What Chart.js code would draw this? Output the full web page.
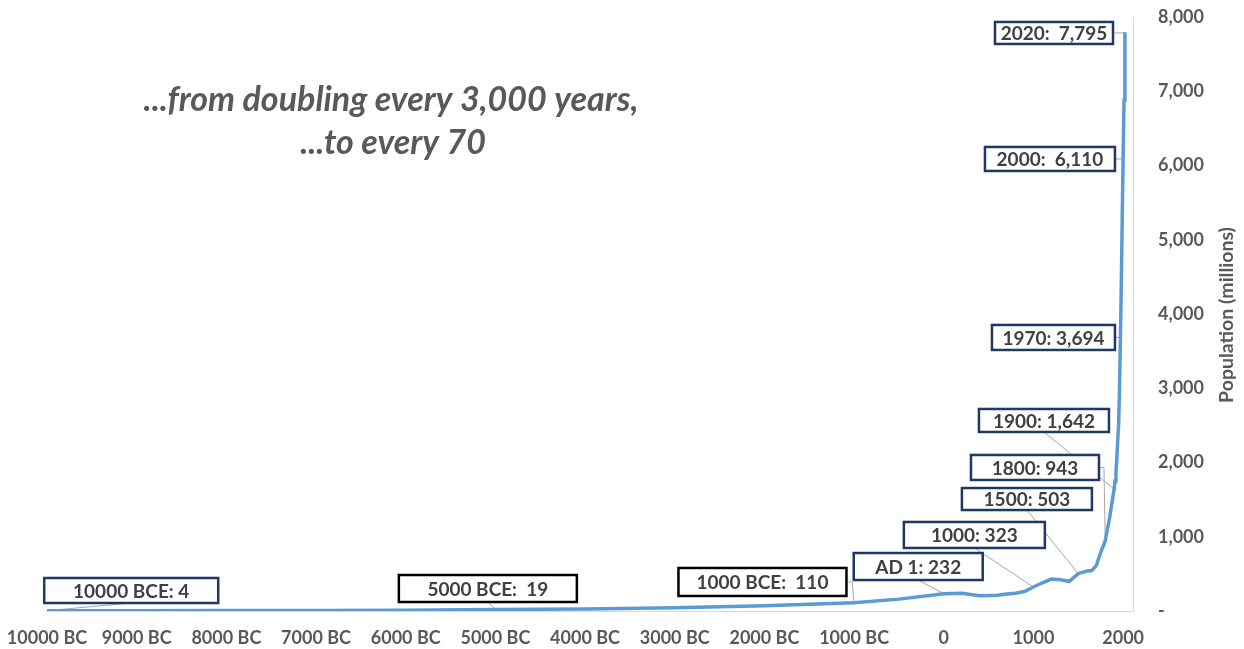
<!DOCTYPE html>
<html>
<head>
<meta charset="utf-8">
<script src="https://cdn.jsdelivr.net/npm/chart.js@4.4.1/dist/chart.umd.min.js"></script>
<style>
  html, body { margin: 0; padding: 0; background: #ffffff; }
  #wrap { width: 1244px; height: 649px; position: relative; }
</style>
</head>
<body>
<div id="wrap"><canvas id="c" width="1244" height="649"></canvas></div>
<script>
// ---- Data ----
const years = [-10000, -9000, -8000, -7000, -6000, -5000, -4000, -3000, -2000, -1000, -500, 1, 200, 400, 500, 600, 700, 800, 900, 1000, 1100, 1200, 1300, 1400, 1500, 1600, 1650, 1700, 1750, 1800, 1850, 1900, 1910, 1920, 1930, 1940, 1950, 1960, 1970, 1980, 1990, 2000, 2010, 2020];
const population = [4, 5, 6, 8, 11, 19, 28, 45, 72, 110, 160, 232, 240, 206, 210, 213, 228, 240, 262, 323, 380, 430, 420, 400, 503, 540, 545, 610, 790, 943, 1262, 1642, 1750, 1860, 2070, 2300, 2525, 3018, 3694, 4434, 5310, 6110, 6880, 7795];

const xTickValues = [-10000, -9000, -8000, -7000, -6000, -5000, -4000, -3000, -2000, -1000, 0, 1000, 2000];
const yTickValues = [0, 1000, 2000, 3000, 4000, 5000, 6000, 7000, 8000];
const yAxisTitle = 'Population (millions)';

// Annotated points
const labelTexts = ['10000 BCE: 4', '5000 BCE:  19', '1000 BCE:  110', 'AD 1: 232', '1000: 323', '1500: 503', '1800: 943', '1900: 1,642', '1970: 3,694', '2000:  6,110', '2020:  7,795'];
const labelYears = [-10000, -5000, -1000, 1, 1000, 1500, 1800, 1900, 1970, 2000, 2020];
const labelValues = [4, 19, 110, 232, 323, 503, 943, 1642, 3694, 6110, 7795];

// ---- Annotation layout (box centres in axis units, box sizes, styles) ----
const boxYears = [-9061, -5084, -2022, -285, 341, 927, 1017, 1117, 1223, 1184, 1229];
const boxValues = [276, 303, 391, 599, 1024, 1508, 1933, 2566, 3684, 6088, 7785];
const boxWidths = [174, 178, 168, 129, 141, 130, 128, 130, 123, 130, 118];
const boxHeights = [25, 27, 28, 27, 26, 22, 25, 23, 25, 24, 22];
const boxAnchors = ['bottom', 'bottom', 'right', 'bottom', 'bottom', 'bottom', 'right', 'bottom', 'right', 'right', 'right'];
const boxBorders = ['#1F3864', '#000000', '#000000', '#1F3864', '#1F3864', '#1F3864', '#1F3864', '#1F3864', '#1F3864', '#1F3864', '#1F3864'];

const titleLines = ['...from doubling every 3,000 years,', '...to every 70'];

const FONT = 'Lato, "Open Sans", "DejaVu Sans", sans-serif';

const annotationPlugin = {
  id: 'annots',
  beforeDatasetsDraw(chart) {
    const ctx = chart.ctx, xs = chart.scales.x, ys = chart.scales.y;
    ctx.save();
    ctx.strokeStyle = '#A6A6A6';
    ctx.lineWidth = 1;
    for (let i = 0; i < labelTexts.length; i++) {
      const px = xs.getPixelForValue(labelYears[i]);
      const py = ys.getPixelForValue(labelValues[i]);
      const bx = xs.getPixelForValue(boxYears[i]);
      const by = ys.getPixelForValue(boxValues[i]);
      ctx.beginPath();
      if (boxAnchors[i] === 'bottom') {
        ctx.moveTo(bx, by + boxHeights[i] / 2);
        ctx.lineTo(px, py);
      } else {
        const rx = bx + boxWidths[i] / 2;
        ctx.moveTo(rx, by);
        ctx.lineTo(Math.max(rx + 5, px - 2), by);
        ctx.lineTo(px, py);
      }
      ctx.stroke();
    }
    ctx.restore();
  },
  afterDatasetsDraw(chart) {
    const ctx = chart.ctx, xs = chart.scales.x, ys = chart.scales.y;
    ctx.save();
    for (let i = 0; i < labelTexts.length; i++) {
      const bx = xs.getPixelForValue(boxYears[i]);
      const by = ys.getPixelForValue(boxValues[i]);
      const w = boxWidths[i], h = boxHeights[i];
      ctx.fillStyle = '#ffffff';
      ctx.fillRect(bx - w / 2, by - h / 2, w, h);
      ctx.strokeStyle = boxBorders[i];
      ctx.lineWidth = 2.5;
      ctx.strokeRect(bx - w / 2, by - h / 2, w, h);
      ctx.fillStyle = '#404040';
      ctx.font = 'bold 19px ' + FONT;
      ctx.textAlign = 'center';
      ctx.textBaseline = 'middle';
      ctx.fillText(labelTexts[i], bx, by + 1);
    }
    ctx.restore();
  },
  afterDraw(chart) {
    const ctx = chart.ctx;
    const area = chart.chartArea;
    ctx.save();
    ctx.fillStyle = '#595959';
    ctx.font = 'italic bold 34px ' + FONT;
    ctx.textAlign = 'center';
    ctx.textBaseline = 'middle';
    ctx.fillText(titleLines[0], 391, 100);
    ctx.fillText(titleLines[1], 393, 143);
    // y-axis title, reading bottom-to-top
    ctx.translate(1227, (area.top + area.bottom) / 2 + 1);
    ctx.rotate(-Math.PI / 2);
    ctx.font = 'bold 19.5px ' + FONT;
    ctx.fillText(yAxisTitle, 0, 0);
    ctx.restore();
  }
};

new Chart(document.getElementById('c'), {
  type: 'line',
  data: {
    datasets: [{
      data: years.map((y, i) => ({ x: y, y: population[i] })),
      borderColor: '#5B9BD5',
      borderWidth: 3.5,
      pointRadius: 0,
      tension: 0,
      fill: false
    }]
  },
  options: {
    responsive: false,
    animation: false,
    layout: { padding: { left: 47, top: 17, right: 0, bottom: 0 } },
    plugins: { legend: { display: false }, tooltip: { enabled: false }, title: { display: false } },
    scales: {
      x: {
        type: 'linear',
        min: -10000,
        max: 2110,
        grid: { display: false, drawTicks: false },
        border: { display: true, color: '#D9D9D9', width: 1 },
        afterBuildTicks: (scale) => { scale.ticks = xTickValues.map(v => ({ value: v })); },
        afterFit: (scale) => {
          scale.height = 38;
          scale.paddingLeft = 0; scale.paddingRight = 0;
        },
        ticks: {
          padding: 16,
          color: '#595959',
          font: { family: FONT, size: 18, weight: 'bold' },
          maxRotation: 0,
          autoSkip: false,
          callback: (v) => v < 0 ? (-v) + ' BC' : String(v)
        }
      },
      y: {
        position: 'right',
        min: 0,
        max: 8000,
        grid: { display: false, drawTicks: false },
        border: { display: true, color: '#D9D9D9', width: 1 },
        afterBuildTicks: (scale) => { scale.ticks = yTickValues.map(v => ({ value: v })); },
        afterFit: (scale) => {
          scale.width = 111;
          scale.paddingTop = 0; scale.paddingBottom = 0;
        },
        ticks: {
          padding: 25,
          color: '#595959',
          font: { family: FONT, size: 18, weight: 'bold' },
          callback: (v) => v === 0 ? '-' : v.toLocaleString('en-US')
        }
      }
    }
  },
  plugins: [annotationPlugin]
});
</script>
</body>
</html>
